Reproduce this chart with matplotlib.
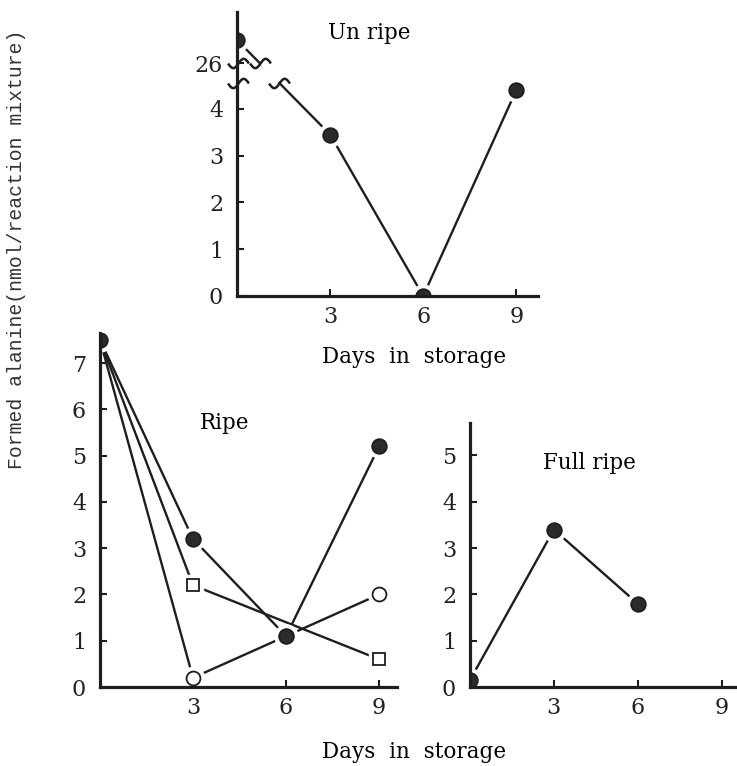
import numpy as np
import matplotlib.pyplot as plt
from matplotlib.path import Path

days = [0, 3, 6, 9]
unripe = [26.5, 3.45, 0.0, 4.4]

ripe_filled = [7.5, 3.2, 1.1, 5.2]
ripe_open = [7.5, 0.2, 1.1, 2.0]
square_days = [0, 3, 9]
ripe_square = [7.5, 2.2, 0.6]

full_days = [0, 3, 6]
full_ripe = [0.15, 3.4, 1.8]

ink = '#1e1e1e'
plt.rcParams['font.family'] = 'DejaVu Serif'


# broken y scale for the "Un ripe" panel (0-4.6 then 26-)
def fwd(y):
    y = np.asarray(y, float)
    return np.where(y <= 4.6, y,
                    np.where(y < 25.9, 4.6 + (y - 4.6) * 0.27 / 21.3, y - 25.9 + 4.87))


def inv(t):
    t = np.asarray(t, float)
    return np.where(t <= 4.6, t,
                    np.where(t < 4.87, 4.6 + (t - 4.6) * 21.3 / 0.27, t - 4.87 + 25.9))


def style(ax):
    for s in ['top', 'right']:
        ax.spines[s].set_visible(False)
    for s in ['left', 'bottom']:
        ax.spines[s].set_linewidth(2.3)
        ax.spines[s].set_color(ink)
        ax.spines[s].set_zorder(7)
    ax.tick_params(direction='in', length=5, width=1.5, color=ink,
                   labelsize=16, pad=7, labelcolor='#222222')
    ax.tick_params(axis='y', pad=10)
    ax.set_xticks([3, 6, 9])


def series(ax, x, y, marker, face, ms, first=0):
    ax.plot(x, y, color=ink, lw=1.7, zorder=2)
    ax.plot(x[first:], y[first:], ls='none', marker=marker, ms=ms + 6,
            mfc='white', mec='white', zorder=3)
    ax.plot(x[first:], y[first:], ls='none', marker=marker, ms=ms,
            mfc=face, mec=ink, mew=1.3, zorder=4)


# wavy break mark
tt = np.linspace(-1, 1, 25)
wave = Path(np.column_stack([tt, 0.45 * np.sin(np.pi * tt)]))

fig = plt.figure(figsize=(7.37, 7.66), dpi=100)

ax_u = fig.add_axes([0.3216, 0.6136, 0.4084, 0.3708])
ax_r = fig.add_axes([0.1357, 0.1031, 0.403, 0.4621])
ax_f = fig.add_axes([0.6377, 0.1031, 0.3623, 0.3446])

# Un ripe
ax_u.set_yscale('function', functions=(fwd, inv))
series(ax_u, days, unripe, 'o', '#2b2b2b', 10.5)
style(ax_u)
ax_u.set_xlim(0, 9.7)
ax_u.set_ylim(0, 27.1)
ax_u.set_yticks([0, 1, 2, 3, 4, 26])
ax_u.minorticks_off()
ax_u.text(0.44, 0.925, 'Un ripe', transform=ax_u.transAxes, ha='center', va='center', fontsize=15.5)
# break marks on the axis and on the line
t0, t3 = fwd(unripe[0]), fwd(unripe[1])
xa = (t0 - fwd(26.0)) / (t0 - t3) * days[1]
xb = (t0 - fwd(4.55)) / (t0 - t3) * days[1]
ax_u.plot([xa + 0.12, xb - 0.12], [25.97, 4.62], color='white', lw=4, zorder=2.5)
ax_u.plot([0.03, 0.03, xa, xb], [26.0, 4.55, 26.0, 4.55], ls='none', marker=wave, ms=15,
          mfc='none', mec=ink, mew=1.8, zorder=8, clip_on=False)

# Ripe
series(ax_r, days, ripe_open, 'o', 'white', 10, first=1)
series(ax_r, square_days, ripe_square, 's', 'white', 8, first=1)
series(ax_r, days, ripe_filled, 'o', '#2b2b2b', 10.5)
style(ax_r)
ax_r.set_xlim(0, 9.58)
ax_r.set_ylim(0, 7.65)
ax_r.set_yticks(range(0, 8))
ax_r.text(0.42, 0.746, 'Ripe', transform=ax_r.transAxes, ha='center', va='center', fontsize=15.5)

# Full ripe
series(ax_f, full_days, full_ripe, 'o', '#2b2b2b', 10.5)
style(ax_f)
ax_f.set_xlim(0, 9.55)
ax_f.set_ylim(0, 5.7)
ax_f.set_yticks(range(0, 6))
ax_f.text(0.449, 0.848, 'Full ripe', transform=ax_f.transAxes, ha='center', va='center', fontsize=15.5)

fig.text(414 / 737, 1 - 357 / 766, 'Days  in  storage', ha='center', va='center', fontsize=15.5)
fig.text(414 / 737, 1 - 752 / 766, 'Days  in  storage', ha='center', va='center', fontsize=15.5)
fig.text(17 / 737, 1 - 249 / 766, 'Formed alanine(nmol/reaction mixture)', rotation=90,
         ha='center', va='center', fontsize=14.2, family='Liberation Mono', color='#333333')

fig.savefig('out.png', dpi=100, facecolor='white')
